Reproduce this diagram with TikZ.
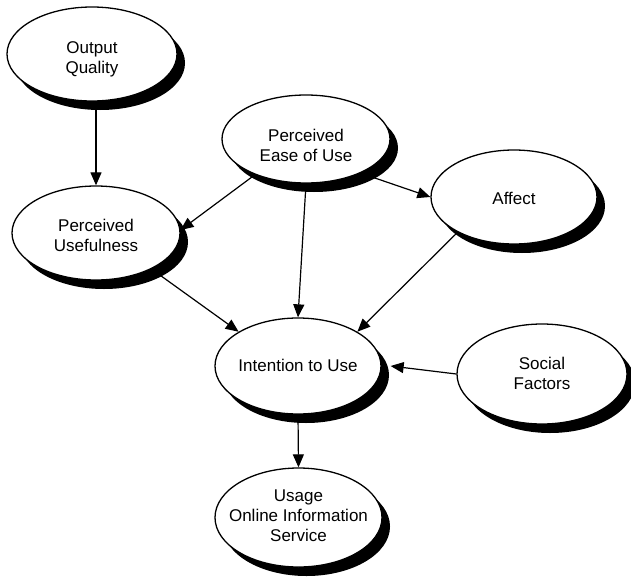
\documentclass[tikz,border=0pt]{standalone}
\usepackage{fontspec}
\setmainfont{Liberation Sans}
\usetikzlibrary{shapes.geometric,arrows.meta,shadows}
\newcommand{\etext}[2]{\raisebox{-#1}[\height][\depth]{\begin{tabular}{@{}c@{}}#2\end{tabular}}}
\begin{document}
\begin{tikzpicture}[x=1pt,y=-1pt,
  construct/.style={ellipse,draw=black,line width=1.3pt,fill=white,
    inner xsep=-30pt,inner ysep=0pt,
    font=\fontsize{17}{20}\selectfont,
    drop shadow={shadow xshift=8pt,shadow yshift=-9pt,opacity=1,fill=black}},
  arr/.style={line width=1.2pt,-{Triangle[length=13pt,width=11pt]}}]
\useasboundingbox (0,0) rectangle (631,578);
\node[construct,minimum width=170pt,minimum height=94pt] (oq) at (92,54) {\etext{6pt}{Output\\Quality}};
\node[construct,minimum width=168pt,minimum height=94pt] (pu) at (96,233) {\etext{4pt}{Perceived\\Usefulness}};
\node[construct,minimum width=168pt,minimum height=88pt] (peou) at (306,139) {\etext{8pt}{Perceived\\Ease of Use}};
\node[construct,minimum width=166pt,minimum height=94pt] (aff) at (514,197) {\etext{3pt}{Affect}};
\node[construct,minimum width=166pt,minimum height=96pt] (itu) at (298,366) {\etext{1pt}{Intention to Use}};
\node[construct,minimum width=170pt,minimum height=100pt] (sf) at (542,374) {\etext{1pt}{Social\\Factors}};
\node[construct,minimum width=167pt,minimum height=99pt] (use) at (298.5,517.5) {\etext{0pt}{Usage\\Online Information\\Service}};
\draw[arr] (oq.south -| pu.north) -- (pu.north);
\draw[arr] (peou.215) -- (pu.2);
\draw[arr] (peou.328) -- (aff.west);
\draw[arr] (peou.south) -- (itu.north);
\draw[arr] (pu.327) -- (itu.150);
\draw[arr] (aff.212) -- (itu.30);
\draw[arr] (sf.west) -- ([xshift=9pt]itu.east);
\draw[arr] (itu.south) -- (use.north);
\end{tikzpicture}
\end{document}
